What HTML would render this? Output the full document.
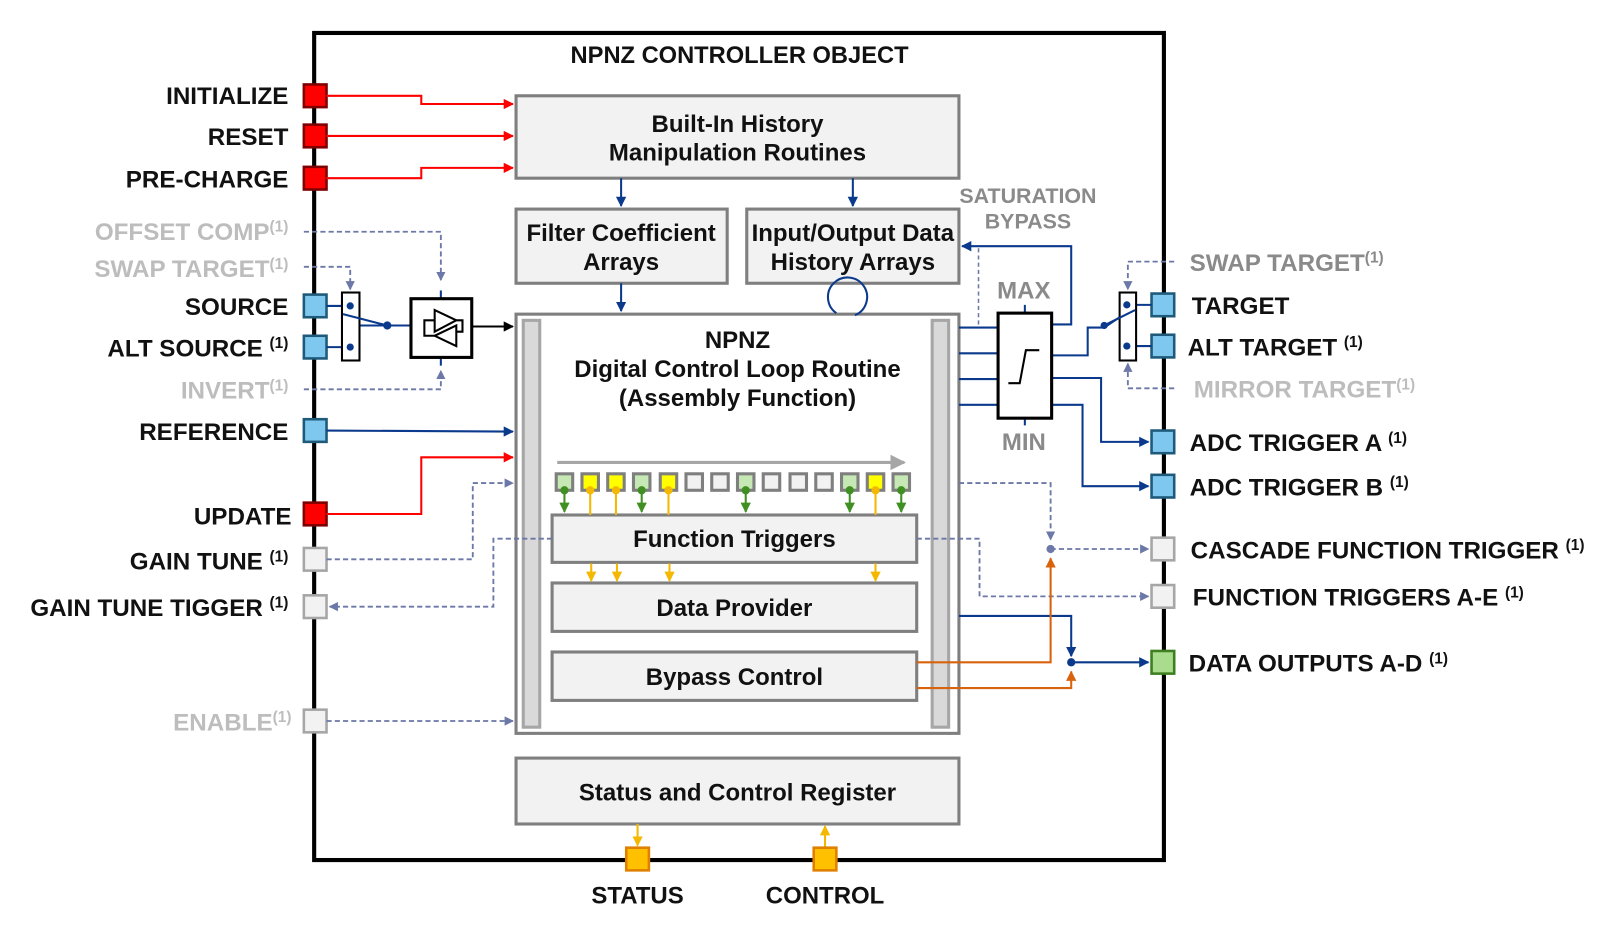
<!DOCTYPE html>
<html><head><meta charset="utf-8"><style>
html,body{margin:0;padding:0;background:#fff;}
svg{display:block;}
text{font-family:"Liberation Sans",Arial,sans-serif;font-weight:bold;}
.l{font-size:23.5px;fill:#111;text-anchor:end;}
.r{font-size:23.5px;fill:#111;}
.g{fill:#bdbdbd;}
.gd{fill:#8a8a8a;}
.c{text-anchor:middle;font-size:23.3px;fill:#111;}
</style></head><body>
<svg width="1613" height="927" viewBox="0 0 1566 900" xmlns="http://www.w3.org/2000/svg">
<defs>
<marker id="ar" viewBox="0 0 10 10" refX="9" refY="5" markerWidth="5" markerHeight="5" orient="auto"><path d="M0,0L10,5L0,10z" fill="#f00"/></marker>
<marker id="ab" viewBox="0 0 10 10" refX="9" refY="5" markerWidth="5" markerHeight="5" orient="auto"><path d="M0,0L10,5L0,10z" fill="#0b3a8c"/></marker>
<marker id="ag" viewBox="0 0 10 10" refX="9" refY="5" markerWidth="5" markerHeight="5" orient="auto"><path d="M0,0L10,5L0,10z" fill="#6b78a8"/></marker>
<marker id="ak" viewBox="0 0 10 10" refX="9" refY="5" markerWidth="5" markerHeight="5" orient="auto"><path d="M0,0L10,5L0,10z" fill="#000"/></marker>
<marker id="ay" viewBox="0 0 10 10" refX="9" refY="5" markerWidth="5" markerHeight="5" orient="auto"><path d="M0,0L10,5L0,10z" fill="#f5b800"/></marker>
<marker id="agr" viewBox="0 0 10 10" refX="9" refY="5" markerWidth="5" markerHeight="5" orient="auto"><path d="M0,0L10,5L0,10z" fill="#3f8f22"/></marker>
<marker id="ao" viewBox="0 0 10 10" refX="9" refY="5" markerWidth="5" markerHeight="5" orient="auto"><path d="M0,0L10,5L0,10z" fill="#d9620c"/></marker>
<marker id="aa" viewBox="0 0 10 10" refX="9" refY="5" markerWidth="5" markerHeight="5" orient="auto"><path d="M0,0L10,5L0,10z" fill="#a6a6a6"/></marker>
</defs>
<rect x="305" y="32" width="825" height="803" fill="#fff" stroke="#000" stroke-width="4"/>
<text class="c" x="718" y="61" style="font-size:23px">NPNZ CONTROLLER OBJECT</text>

<g fill="#f2f2f2" stroke="#7f7f7f" stroke-width="3">
<rect x="501" y="93" width="430" height="80"/>
<rect x="501" y="203" width="205" height="72"/>
<rect x="725" y="203" width="206" height="72"/>
<rect x="501" y="305" width="430" height="407" fill="#fff"/>
<rect x="508" y="311" width="16" height="395" fill="#d9d9d9" stroke="#a6a6a6"/>
<rect x="905" y="311" width="16" height="395" fill="#d9d9d9" stroke="#a6a6a6"/>
<rect x="536" y="500" width="354" height="46"/>
<rect x="536" y="566" width="354" height="47"/>
<rect x="536" y="633" width="354" height="47"/>
<rect x="501" y="736" width="430" height="64"/>
</g>
<text class="c" x="716" y="128">Built-In History</text>
<text class="c" x="716" y="156">Manipulation Routines</text>
<text class="c" x="603" y="234">Filter Coefficient</text>
<text class="c" x="603" y="262">Arrays</text>
<text class="c" x="828" y="234">Input/Output Data</text>
<text class="c" x="828" y="262">History Arrays</text>
<text class="c" x="716" y="338">NPNZ</text>
<text class="c" x="716" y="366">Digital Control Loop Routine</text>
<text class="c" x="716" y="394">(Assembly Function)</text>
<text class="c" x="713" y="531">Function Triggers</text>
<text class="c" x="713" y="598">Data Provider</text>
<text class="c" x="713" y="665">Bypass Control</text>
<text class="c" x="716" y="777">Status and Control Register</text>

<g stroke="#0b3a8c" stroke-width="2" fill="none">
<path d="M603 173V200" marker-end="url(#ab)"/>
<path d="M828 173V200" marker-end="url(#ab)"/>
<path d="M603 275V302" marker-end="url(#ab)"/>
<path d="M812 304 A19 19 0 1 1 830 306"/>
</g>
<path d="M541 449H878" stroke="#a6a6a6" stroke-width="3" marker-end="url(#aa)"/>
<g stroke="#7f7f7f" stroke-width="3">
<rect x="540" y="460" width="16" height="16" fill="#c5e8b4"/>
<rect x="565" y="460" width="16" height="16" fill="#ff0"/>
<rect x="590" y="460" width="16" height="16" fill="#ff0"/>
<rect x="615" y="460" width="16" height="16" fill="#c5e8b4"/>
<rect x="641" y="460" width="16" height="16" fill="#ff0"/>
<rect x="666" y="460" width="16" height="16" fill="#f2f2f2"/>
<rect x="691" y="460" width="16" height="16" fill="#f2f2f2"/>
<rect x="716" y="460" width="16" height="16" fill="#c5e8b4"/>
<rect x="741" y="460" width="16" height="16" fill="#f2f2f2"/>
<rect x="767" y="460" width="16" height="16" fill="#f2f2f2"/>
<rect x="792" y="460" width="16" height="16" fill="#f2f2f2"/>
<rect x="817" y="460" width="16" height="16" fill="#c5e8b4"/>
<rect x="842" y="460" width="16" height="16" fill="#ff0"/>
<rect x="867" y="460" width="16" height="16" fill="#c5e8b4"/>
</g>
<g stroke="#3f8f22" stroke-width="2" fill="#3f8f22">
<path d="M548 476V497" marker-end="url(#agr)"/><circle cx="548" cy="476" r="3"/>
<path d="M623 476V497" marker-end="url(#agr)"/><circle cx="623" cy="476" r="3"/>
<path d="M724 476V497" marker-end="url(#agr)"/><circle cx="724" cy="476" r="3"/>
<path d="M825 476V497" marker-end="url(#agr)"/><circle cx="825" cy="476" r="3"/>
<path d="M875 476V497" marker-end="url(#agr)"/><circle cx="875" cy="476" r="3"/>
</g>
<g stroke="#f5b800" stroke-width="2" fill="#f5b800">
<path d="M573 476V500"/><circle cx="573" cy="476" r="3"/>
<path d="M598 476V500"/><circle cx="598" cy="476" r="3"/>
<path d="M649 476V500"/><circle cx="649" cy="476" r="3"/>
<path d="M850 476V500"/><circle cx="850" cy="476" r="3"/>
<path d="M574 547V564" marker-end="url(#ay)"/>
<path d="M599 547V564" marker-end="url(#ay)"/>
<path d="M650 547V564" marker-end="url(#ay)"/>
<path d="M850 547V564" marker-end="url(#ay)"/>
<path d="M619 800V821" marker-end="url(#ay)"/>
<path d="M801 822V802" marker-end="url(#ay)"/>
</g>

<g stroke-width="2.5">
<rect x="295" y="82" width="22" height="22" fill="#f00" stroke="#7f0000"/>
<rect x="295" y="121" width="22" height="22" fill="#f00" stroke="#7f0000"/>
<rect x="295" y="162" width="22" height="22" fill="#f00" stroke="#7f0000"/>
<rect x="295" y="286" width="22" height="22" fill="#7ec8f0" stroke="#1f5a7a"/>
<rect x="295" y="326" width="22" height="22" fill="#7ec8f0" stroke="#1f5a7a"/>
<rect x="295" y="407" width="22" height="22" fill="#7ec8f0" stroke="#1f5a7a"/>
<rect x="295" y="488" width="22" height="22" fill="#f00" stroke="#7f0000"/>
<rect x="295" y="532" width="22" height="22" fill="#f2f2f2" stroke="#a6a6a6"/>
<rect x="295" y="578" width="22" height="22" fill="#f2f2f2" stroke="#a6a6a6"/>
<rect x="295" y="689" width="22" height="22" fill="#f2f2f2" stroke="#a6a6a6"/>
<rect x="1118" y="285" width="22" height="22" fill="#7ec8f0" stroke="#1f5a7a"/>
<rect x="1118" y="325" width="22" height="22" fill="#7ec8f0" stroke="#1f5a7a"/>
<rect x="1118" y="418" width="22" height="22" fill="#7ec8f0" stroke="#1f5a7a"/>
<rect x="1118" y="461" width="22" height="22" fill="#7ec8f0" stroke="#1f5a7a"/>
<rect x="1118" y="522" width="22" height="22" fill="#f2f2f2" stroke="#a6a6a6"/>
<rect x="1118" y="568" width="22" height="22" fill="#f2f2f2" stroke="#a6a6a6"/>
<rect x="1118" y="632" width="22" height="22" fill="#a9dc8c" stroke="#3f7f22"/>
<rect x="608" y="823" width="22" height="22" fill="#ffc000" stroke="#e08000"/>
<rect x="790" y="823" width="22" height="22" fill="#ffc000" stroke="#e08000"/>
</g>

<text class="l" x="280" y="101">INITIALIZE</text>
<text class="l" x="280" y="141">RESET</text>
<text class="l" x="280" y="182">PRE-CHARGE</text>
<text class="l g" x="280" y="233">OFFSET COMP<tspan font-size="15" dy="-8">(1)</tspan></text>
<text class="l g" x="280" y="269">SWAP TARGET<tspan font-size="15" dy="-8">(1)</tspan></text>
<text class="l" x="280" y="306">SOURCE</text>
<text class="l" x="280" y="346">ALT SOURCE <tspan font-size="15" dy="-8">(1)</tspan></text>
<text class="l g" x="280" y="387">INVERT<tspan font-size="15" dy="-8">(1)</tspan></text>
<text class="l" x="280" y="427">REFERENCE</text>
<text class="l" x="283" y="509">UPDATE</text>
<text class="l" x="280" y="553">GAIN TUNE <tspan font-size="15" dy="-8">(1)</tspan></text>
<text class="l" x="280" y="598">GAIN TUNE TIGGER <tspan font-size="15" dy="-8">(1)</tspan></text>
<text class="l g" x="283" y="709">ENABLE<tspan font-size="15" dy="-8">(1)</tspan></text>
<text class="r gd" x="1155" y="263">SWAP TARGET<tspan font-size="15" dy="-8">(1)</tspan></text>
<text class="r" x="1157" y="305">TARGET</text>
<text class="r" x="1153" y="345">ALT TARGET <tspan font-size="15" dy="-8">(1)</tspan></text>
<text class="r g" x="1159" y="386">MIRROR TARGET<tspan font-size="15" dy="-8">(1)</tspan></text>
<text class="r" x="1155" y="438">ADC TRIGGER A <tspan font-size="15" dy="-8">(1)</tspan></text>
<text class="r" x="1155" y="481">ADC TRIGGER B <tspan font-size="15" dy="-8">(1)</tspan></text>
<text class="r" x="1156" y="542">CASCADE FUNCTION TRIGGER <tspan font-size="15" dy="-8">(1)</tspan></text>
<text class="r" x="1158" y="588">FUNCTION TRIGGERS A-E <tspan font-size="15" dy="-8">(1)</tspan></text>
<text class="r" x="1154" y="652">DATA OUTPUTS A-D <tspan font-size="15" dy="-8">(1)</tspan></text>
<text class="c" x="619" y="877">STATUS</text>
<text class="c" x="801" y="877">CONTROL</text>
<text class="c" x="998" y="197" style="font-size:20.8px;fill:#8a8a8a">SATURATION</text>
<text class="c" x="998" y="222" style="font-size:20.8px;fill:#8a8a8a">BYPASS</text>
<text class="c" x="994" y="290" style="fill:#8a8a8a">MAX</text>
<text class="c" x="994" y="437" style="fill:#8a8a8a">MIN</text>

<g stroke="#f00" stroke-width="2" fill="none">
<path d="M317 93H409V101H498" marker-end="url(#ar)"/>
<path d="M317 132H498" marker-end="url(#ar)"/>
<path d="M317 173H409V163H498" marker-end="url(#ar)"/>
<path d="M317 499H409V444H498" marker-end="url(#ar)"/>
</g>
<g stroke="#0b3a8c" stroke-width="2" fill="none">
<path d="M317 297H340"/><path d="M317 337H340"/>
<path d="M349 316L376 316"/>
<path d="M376 316H399"/>
<path d="M317 418L498 419" marker-end="url(#ab)"/>
<path d="M428 282V290"/><path d="M428 347V355"/>
</g>
<rect x="332" y="284" width="17" height="66" fill="#fff" stroke="#000" stroke-width="2"/>
<g fill="#0b3a8c"><circle cx="340" cy="297" r="3.5"/><circle cx="340" cy="337" r="3.5"/><circle cx="376" cy="316" r="4"/></g>
<path d="M333 305L376 316" stroke="#0b3a8c" stroke-width="2"/>
<rect x="399" y="290" width="59" height="57" fill="#fff" stroke="#000" stroke-width="3"/>
<path d="M422 301L443 311L422 322Z" fill="none" stroke="#000" stroke-width="2"/>
<path d="M443 316L422 326L443 336Z" fill="none" stroke="#000" stroke-width="2"/>
<path d="M422 311H412V326H422 M443 322H449V311H443" fill="none" stroke="#000" stroke-width="2"/>
<path d="M458 317H498" stroke="#000" stroke-width="2" marker-end="url(#ak)"/>
<g stroke="#6b78a8" stroke-width="1.8" fill="none" stroke-dasharray="5,3">
<path d="M295 225H428V272" marker-end="url(#ag)"/>
<path d="M295 259H340V281" marker-end="url(#ag)"/>
<path d="M295 378H428V360" marker-end="url(#ag)"/>
<path d="M317 543H459V469H498" marker-end="url(#ag)"/>
<path d="M536 523H479V589H320" marker-end="url(#ag)"/>
<path d="M317 700H498" marker-end="url(#ag)"/>
</g>

<g stroke="#0b3a8c" stroke-width="2" fill="none">
<path d="M931 318H969"/><path d="M931 343H969"/><path d="M931 368H969"/><path d="M931 393H969"/>
<path d="M1021 315H1040V239H934" marker-end="url(#ab)"/>
<path d="M1021 345H1056V318H1072L1090 306"/>
<path d="M1021 367H1069V429H1115" marker-end="url(#ab)"/>
<path d="M1021 393H1051V472H1115" marker-end="url(#ab)"/>
<path d="M995 296V304"/><path d="M995 406V413"/>
<path d="M1094 296H1118"/><path d="M1094 336H1118"/>
<path d="M931 598H1040V637" marker-end="url(#ab)"/>
<path d="M1040 643H1115" marker-end="url(#ab)"/>
</g>
<path d="M950 315V239" stroke="#6b78a8" stroke-width="1.5" stroke-dasharray="4,3" fill="none"/>
<rect x="969" y="304" width="52" height="102" fill="#fff" stroke="#000" stroke-width="3"/>
<path d="M979 372H990L996 340H1009" stroke="#000" stroke-width="2" fill="none"/>
<rect x="1087" y="284" width="16" height="66" fill="#fff" stroke="#000" stroke-width="2"/>
<g fill="#0b3a8c"><circle cx="1094" cy="296" r="3.5"/><circle cx="1094" cy="336" r="3.5"/><circle cx="1072" cy="316" r="3.5"/><circle cx="1040" cy="643" r="4"/></g>
<path d="M1072 316L1102 301" stroke="#0b3a8c" stroke-width="2"/>
<g stroke="#6b78a8" stroke-width="1.8" fill="none" stroke-dasharray="5,3">
<path d="M1140 254H1095V281" marker-end="url(#ag)"/>
<path d="M1140 377H1095V353" marker-end="url(#ag)"/>
<path d="M931 469H1020V524" marker-end="url(#ag)"/>
<path d="M1020 533H1115" marker-end="url(#ag)"/>
<path d="M890 523H951V579H1115" marker-end="url(#ag)"/>
</g>
<circle cx="1020" cy="533" r="4" fill="#6b78a8"/>
<g stroke="#d9620c" stroke-width="2" fill="none">
<path d="M890 643H1020V542" marker-end="url(#ao)"/>
<path d="M890 668H1040V652" marker-end="url(#ao)"/>
</g>
</svg>
</body></html>
